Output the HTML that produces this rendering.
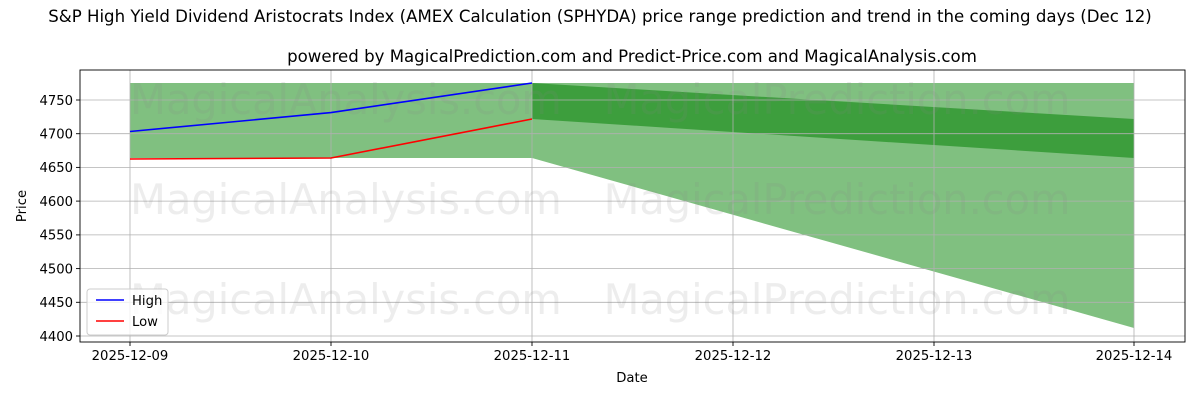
<!DOCTYPE html>
<html><head><meta charset="utf-8"><style>
html,body{margin:0;padding:0;background:#fff;}
svg text{font-family:"DejaVu Sans","Liberation Sans",sans-serif;}
</style></head><body>
<svg width="1200" height="400" viewBox="0 0 1200 400" xmlns="http://www.w3.org/2000/svg">
<rect width="1200" height="400" fill="#fff"/>
<text x="600" y="22" font-size="16.6" text-anchor="middle" fill="#000">S&amp;P High Yield Dividend Aristocrats Index (AMEX Calculation (SPHYDA) price range prediction and trend in the coming days (Dec 12)</text>
<text x="632" y="62" font-size="16.6" text-anchor="middle" fill="#000">powered by MagicalPrediction.com and Predict-Price.com and MagicalAnalysis.com</text>
<polygon points="130,83 532,83 532,158 130,158" fill="#80c080"/>
<polygon points="532,83 1134,83 1134,328 532,158" fill="#80c080"/>
<polygon points="532,83 1134,119 1134,158 532,119" fill="#3d9e3d"/>
<g stroke="#b0b0b0" stroke-width="0.8">
<line x1="130" y1="70" x2="130" y2="342"/><line x1="331" y1="70" x2="331" y2="342"/><line x1="532" y1="70" x2="532" y2="342"/><line x1="733" y1="70" x2="733" y2="342"/><line x1="934" y1="70" x2="934" y2="342"/><line x1="1134" y1="70" x2="1134" y2="342"/>
<line x1="80" y1="100" x2="1185" y2="100"/><line x1="80" y1="133.7" x2="1185" y2="133.7"/><line x1="80" y1="167.4" x2="1185" y2="167.4"/><line x1="80" y1="201.1" x2="1185" y2="201.1"/><line x1="80" y1="234.9" x2="1185" y2="234.9"/><line x1="80" y1="268.6" x2="1185" y2="268.6"/><line x1="80" y1="302.3" x2="1185" y2="302.3"/><line x1="80" y1="336" x2="1185" y2="336"/>
</g>
<g font-size="41.5" fill="#888" fill-opacity="0.15" text-anchor="middle">
<text x="346" y="114">MagicalAnalysis.com</text><text x="837" y="114">MagicalPrediction.com</text>
<text x="346" y="214">MagicalAnalysis.com</text><text x="837" y="214">MagicalPrediction.com</text>
<text x="346" y="314">MagicalAnalysis.com</text><text x="837" y="314">MagicalPrediction.com</text>
</g>
<polyline points="130,131.5 331,112.6 532,83" fill="none" stroke="#0000ff" stroke-width="1.6"/>
<polyline points="130,159 331,158 532,119" fill="none" stroke="#ff0000" stroke-width="1.6"/>
<rect x="80" y="70" width="1105" height="272" fill="none" stroke="#000" stroke-width="0.9"/>
<g stroke="#000" stroke-width="0.9">
<line x1="130" y1="342" x2="130" y2="346"/><line x1="331" y1="342" x2="331" y2="346"/><line x1="532" y1="342" x2="532" y2="346"/><line x1="733" y1="342" x2="733" y2="346"/><line x1="934" y1="342" x2="934" y2="346"/><line x1="1134" y1="342" x2="1134" y2="346"/>
<line x1="76" y1="100" x2="80" y2="100"/><line x1="76" y1="133.7" x2="80" y2="133.7"/><line x1="76" y1="167.4" x2="80" y2="167.4"/><line x1="76" y1="201.1" x2="80" y2="201.1"/><line x1="76" y1="234.9" x2="80" y2="234.9"/><line x1="76" y1="268.6" x2="80" y2="268.6"/><line x1="76" y1="302.3" x2="80" y2="302.3"/><line x1="76" y1="336" x2="80" y2="336"/>
</g>
<g font-size="13.2" fill="#000" text-anchor="middle">
<text x="130" y="360">2025-12-09</text><text x="331" y="360">2025-12-10</text><text x="532" y="360">2025-12-11</text><text x="733" y="360">2025-12-12</text><text x="934" y="360">2025-12-13</text><text x="1134" y="360">2025-12-14</text>
<text x="632" y="382">Date</text>
</g>
<g font-size="13.2" fill="#000" text-anchor="end">
<text x="73" y="105">4750</text><text x="73" y="138.5">4700</text><text x="73" y="172">4650</text><text x="73" y="206">4600</text><text x="73" y="239.5">4550</text><text x="73" y="273.5">4500</text><text x="73" y="307">4450</text><text x="73" y="341">4400</text>
</g>
<text x="26" y="206" font-size="13.2" text-anchor="middle" transform="rotate(-90 26 206)">Price</text>
<rect x="87" y="289" width="81" height="46" rx="3" fill="#fff" fill-opacity="0.8" stroke="#ccc"/>
<line x1="96" y1="300" x2="124" y2="300" stroke="#0000ff" stroke-width="1.6"/>
<line x1="96" y1="321" x2="124" y2="321" stroke="#ff0000" stroke-width="1.6"/>
<text x="132" y="305" font-size="13.2">High</text>
<text x="132" y="326" font-size="13.2">Low</text>
</svg>
</body></html>
